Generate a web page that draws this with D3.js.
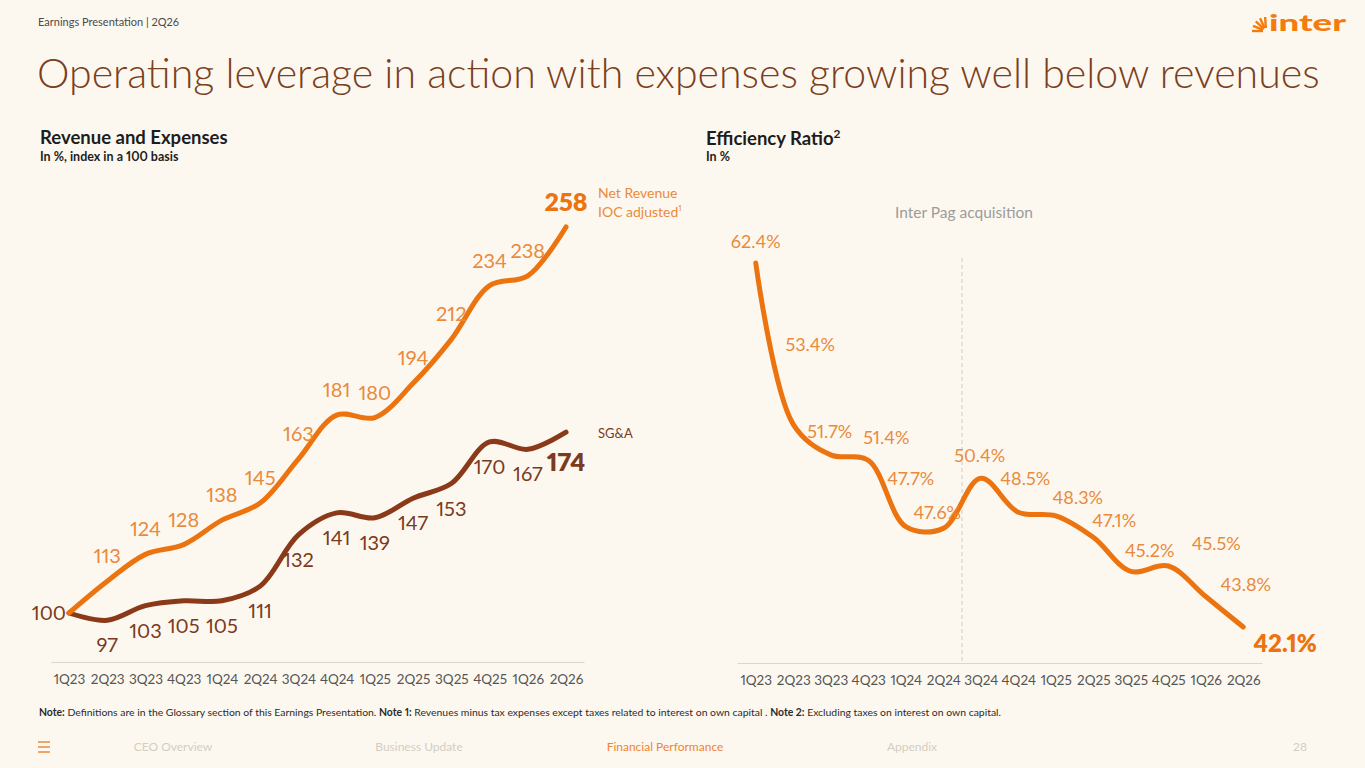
<!DOCTYPE html>
<html>
<head>
<meta charset="utf-8">
<script src="https://cdn.jsdelivr.net/npm/d3@7/dist/d3.min.js"></script>
<style>
  body { margin: 0; background: #FDF8EF; }
  svg { display: block; font-family: Lato, "Noto Sans", sans-serif; font-variant-numeric: proportional-nums; }
</style>
</head>
<body>
<svg id="slide" width="1365" height="768"></svg>
<script>
// ---- data ----
const quarters = ['1Q23', '2Q23', '3Q23', '4Q23', '1Q24', '2Q24', '3Q24', '4Q24',
                  '1Q25', '2Q25', '3Q25', '4Q25', '1Q26', '2Q26'];
const netRevenue = [100, 113, 124, 128, 138, 145, 163, 181, 180, 194, 212, 234, 238, 258];
const sgna = [100, 97, 103, 105, 105, 111, 132, 141, 139, 147, 153, 170, 167, 174];
const efficiency = [62.4, 53.4, 51.7, 51.4, 47.7, 47.6, 50.4, 48.5, 48.3, 47.1, 45.2, 45.5, 43.8, 42.1];
const acquisitionAfter = '2Q24';

const ORANGE = '#EB7410',
      ORANGE_LABEL = '#E98A3C',
      BROWN = '#8A3A19',
      BROWN_LABEL = '#7B3B20',
      TITLE_BROWN = '#7B3F1E';

const svg = d3.select('#slide');

svg.append('rect')
    .attr('width', 1365)
    .attr('height', 768)
    .attr('fill', '#FDF8EF');

// ---- header ----
svg.append('text')
    .attr('x', 38)
    .attr('y', 26)
    .attr('font-size', 11)
    .attr('fill', '#4a4a4a')
    .text('Earnings Presentation | 2Q26');

const title = svg.append('text')
    .attr('x', 37)
    .attr('y', 88)
    .attr('font-size', 40)
    .attr('font-weight', 300)
    .attr('fill', TITLE_BROWN)
    .text('Operating leverage in action with expenses growing well below revenues');
fitWidth(title, 40, 1283);

// logo
const logo = svg.append('g').attr('class', 'logo');
[0, 1, 2, 3, 4].forEach(i => {
  const a = Math.PI * (1.0 + i * 0.12);
  logo.append('line')
      .attr('x1', 1266 + Math.cos(a) * 3)
      .attr('y1', 31 + Math.sin(a) * 3)
      .attr('x2', 1266 + Math.cos(a) * 14)
      .attr('y2', 31 + Math.sin(a) * 14)
      .attr('stroke', '#F47B0E')
      .attr('stroke-width', 2.4);
});
logo.append('text')
    .attr('x', 1269)
    .attr('y', 31)
    .attr('font-size', 23)
    .attr('font-weight', 900)
    .attr('fill', '#F47B0E')
    .attr('textLength', 77)
    .attr('lengthAdjust', 'spacingAndGlyphs')
    .text('inter');

// chart headings
svg.append('text')
    .attr('x', 40).attr('y', 144)
    .attr('font-size', 18.5).attr('font-weight', 700).attr('fill', '#1d1d1d')
    .text('Revenue and Expenses');
svg.append('text')
    .attr('x', 40).attr('y', 161)
    .attr('font-size', 12.5).attr('font-weight', 700).attr('fill', '#1d1d1d')
    .text('In %, index in a 100 basis');

const effHead = svg.append('text')
    .attr('x', 706).attr('y', 145)
    .attr('font-size', 18.5).attr('font-weight', 700).attr('fill', '#1d1d1d')
    .text('Efficiency Ratio');
effHead.append('tspan')
    .attr('font-size', 12).attr('dy', -7)
    .text('2');
svg.append('text')
    .attr('x', 706).attr('y', 161)
    .attr('font-size', 12.5).attr('font-weight', 700).attr('fill', '#1d1d1d')
    .text('In %');

// ---- left chart: revenue and expenses ----
const lx = d3.scalePoint()
    .domain(quarters)
    .range([51, 584])
    .padding(0.47);

const ly = d3.scaleLinear()
    .domain([100, 258])
    .range([613, 227]);

const lXAxis = d3.axisBottom(lx)
    .tickSize(0)
    .tickSizeOuter(0)
    .tickPadding(12);

const left = svg.append('g').attr('class', 'left-chart');

const lAxisG = left.append('g')
    .attr('class', 'x axis')
    .attr('transform', 'translate(0,662)')
    .call(lXAxis);
styleAxis(lAxisG);

const lLine = d3.line()
    .x((d, i) => lx(quarters[i]))
    .y(d => ly(d))
    .curve(d3.curveCatmullRom.alpha(0.5));

left.append('path')
    .datum(sgna)
    .attr('d', lLine)
    .attr('fill', 'none')
    .attr('stroke', BROWN)
    .attr('stroke-width', 5)
    .attr('stroke-linecap', 'round');

left.append('path')
    .datum(netRevenue)
    .attr('d', lLine)
    .attr('fill', 'none')
    .attr('stroke', ORANGE)
    .attr('stroke-width', 5)
    .attr('stroke-linecap', 'round');

const last = quarters.length - 1;

// revenue labels above the line
left.selectAll('.rev-label')
    .data(netRevenue)
  .enter().append('text')
    .attr('class', 'rev-label')
    .filter((d, i) => i > 0)
    .attr('x', (d, i) => lx(quarters[i + 1]))
    .attr('y', (d, i) => ly(d) - (i + 1 === last ? 16 : 18))
    .attr('text-anchor', 'middle')
    .attr('font-size', (d, i) => i + 1 === last ? 25 : 20)
    .attr('font-weight', (d, i) => i + 1 === last ? 800 : 400)
    .attr('fill', (d, i) => i + 1 === last ? ORANGE : ORANGE_LABEL)
    .text(d => d);

// sg&a labels below the line
left.selectAll('.sga-label')
    .data(sgna)
  .enter().append('text')
    .attr('class', 'sga-label')
    .filter((d, i) => i > 0)
    .attr('x', (d, i) => lx(quarters[i + 1]))
    .attr('y', (d, i) => ly(d) + (i + 1 === last ? 39 : 32))
    .attr('text-anchor', 'middle')
    .attr('font-size', (d, i) => i + 1 === last ? 25 : 20)
    .attr('font-weight', (d, i) => i + 1 === last ? 800 : 400)
    .attr('fill', BROWN_LABEL)
    .text(d => d);

// shared starting value
left.append('text')
    .attr('x', lx(quarters[0]) - 3)
    .attr('y', ly(sgna[0]) + 7)
    .attr('text-anchor', 'end')
    .attr('font-size', 20)
    .attr('fill', BROWN_LABEL)
    .text(sgna[0]);

// series names
const revName = left.append('text')
    .attr('x', 598).attr('y', 198)
    .attr('font-size', 14).attr('fill', ORANGE_LABEL);
revName.append('tspan').attr('x', 598).text('Net Revenue');
revName.append('tspan').attr('x', 598).attr('dy', 19).text('IOC adjusted');
revName.append('tspan').attr('font-size', 8).attr('dy', -6).text('1');

left.append('text')
    .attr('x', 598).attr('y', 438)
    .attr('font-size', 13).attr('fill', BROWN_LABEL)
    .text('SG&A');

// ---- right chart: efficiency ratio ----
const rx = d3.scalePoint()
    .domain(quarters)
    .range([737, 1262])
    .padding(0.5);

const ry = d3.scaleLinear()
    .domain([42.1, 62.4])
    .range([627, 263]);

const rXAxis = d3.axisBottom(rx)
    .tickSize(0)
    .tickSizeOuter(0)
    .tickPadding(12);

const right = svg.append('g').attr('class', 'right-chart');

const rAxisG = right.append('g')
    .attr('class', 'x axis')
    .attr('transform', 'translate(0,663)')
    .call(rXAxis);
styleAxis(rAxisG);

// acquisition marker between 2Q24 and 3Q24
const splitX = rx(acquisitionAfter) + rx.step() / 2;
right.append('line')
    .attr('x1', splitX).attr('x2', splitX)
    .attr('y1', 258).attr('y2', 663)
    .attr('stroke', '#D8D2CA')
    .attr('stroke-width', 1.2)
    .attr('stroke-dasharray', '4,3');

right.append('text')
    .attr('x', splitX + 2)
    .attr('y', 218)
    .attr('text-anchor', 'middle')
    .attr('font-size', 15.5)
    .attr('fill', '#9B9B9B')
    .text('Inter Pag acquisition');

const rLine = d3.line()
    .x((d, i) => rx(quarters[i]))
    .y(d => ry(d))
    .curve(d3.curveCatmullRom.alpha(0.5));

right.append('path')
    .datum(efficiency)
    .attr('d', rLine)
    .attr('fill', 'none')
    .attr('stroke', ORANGE)
    .attr('stroke-width', 5)
    .attr('stroke-linecap', 'round');

// label nudges (px from each point), as placed on the slide
const effNudge = [[0, -15], [17, -73], [-1, -17], [18, -16], [5, -42], [-6, -9], [-1, -16],
                  [7, -27], [22, -12], [21, -10], [19, -14], [48, -16], [40, -6], [42, 25]];

right.selectAll('.eff-label')
    .data(efficiency)
  .enter().append('text')
    .attr('class', 'eff-label')
    .attr('x', (d, i) => rx(quarters[i]) + effNudge[i][0])
    .attr('y', (d, i) => ry(d) + effNudge[i][1])
    .attr('text-anchor', 'middle')
    .attr('font-size', (d, i) => i === last ? 24 : 18)
    .attr('font-weight', (d, i) => i === last ? 800 : 400)
    .attr('fill', (d, i) => i === last ? ORANGE : ORANGE_LABEL)
    .text(d => d.toFixed(1) + '%');

// ---- footer ----
const note = svg.append('text')
    .attr('x', 39)
    .attr('y', 716)
    .attr('font-size', 10.5)
    .attr('fill', '#2b2b2b');
[
  ['Note:', true], [' Definitions are in the Glossary section of this Earnings Presentation. ', false],
  ['Note 1:', true], [' Revenues minus tax expenses except taxes related to interest on own capital . ', false],
  ['Note 2:', true], [' Excluding taxes on interest on own capital.', false]
].forEach(p => {
  note.append('tspan')
      .attr('font-weight', p[1] ? 700 : 400)
      .text(p[0]);
});
fitWidth(note, 10.5, 964);

// nav bar
[742, 747, 752].forEach(y => {
  svg.append('line')
      .attr('x1', 38).attr('x2', 50)
      .attr('y1', y).attr('y2', y)
      .attr('stroke', '#E98A3C')
      .attr('stroke-width', 1.5);
});

const navItems = [
  {label: 'CEO Overview', x: 173},
  {label: 'Business Update', x: 419},
  {label: 'Financial Performance', x: 665, active: true},
  {label: 'Appendix', x: 912}
];
svg.selectAll('.nav')
    .data(navItems)
  .enter().append('text')
    .attr('class', 'nav')
    .attr('x', d => d.x)
    .attr('y', 751)
    .attr('text-anchor', 'middle')
    .attr('font-size', 12)
    .attr('fill', d => d.active ? '#EE8433' : '#D4CDC3')
    .text(d => d.label);

svg.append('text')
    .attr('x', 1300).attr('y', 751)
    .attr('text-anchor', 'middle')
    .attr('font-size', 12)
    .attr('fill', '#D4CDC3')
    .text('28');

// ---- helpers ----
function styleAxis(g) {
  g.select('.domain')
      .attr('stroke', '#DCD5CB')
      .attr('stroke-width', 1);
  g.selectAll('text')
      .attr('font-size', 13.5)
      .attr('font-family', 'Lato, sans-serif')
      .attr('fill', '#555');
}

function fitWidth(sel, size, target) {
  const w = sel.node().getComputedTextLength();
  if (w > 0) sel.attr('font-size', size * target / w);
}
</script>
</body>
</html>
